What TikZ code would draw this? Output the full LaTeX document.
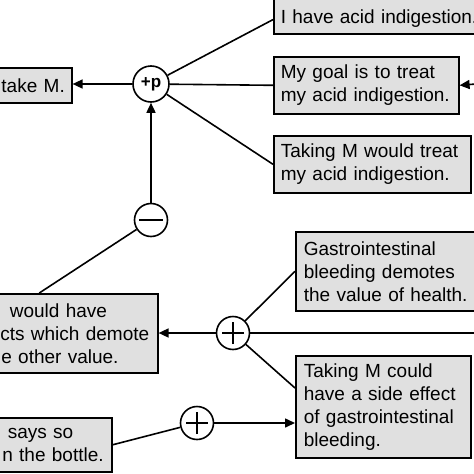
\documentclass[tikz,border=0pt]{standalone}
\usepackage{fontspec}
\setmainfont{Liberation Sans}
\usetikzlibrary{arrows.meta,calc}
\definecolor{boxfill}{RGB}{224,224,224}
\begin{document}
\begin{tikzpicture}[x=1pt,y=-1pt,
  box/.style={draw, line width=1.6pt, fill=boxfill, inner xsep=7pt, inner ysep=0pt,
    anchor=north west, font=\fontsize{19}{23}\selectfont},
  opnode/.style={circle, draw, fill=white, line width=1.6pt, inner sep=0pt, minimum size=33pt},
  plusnode/.style={opnode, path picture={\draw[line width=1.6pt]
    ([xshift=-11pt]path picture bounding box.center) -- ([xshift=11pt]path picture bounding box.center)
    ([yshift=-11pt]path picture bounding box.center) -- ([yshift=11pt]path picture bounding box.center);}},
  minusnode/.style={opnode, path picture={\draw[line width=2.6pt]
    ([xshift=-12pt]path picture bounding box.center) -- ([xshift=12pt]path picture bounding box.center);}},
  link/.style={line width=1.6pt},
  arr/.style={link, -{Triangle[length=10pt,width=9pt]}}
]
\useasboundingbox (0,0) rectangle (474,474);
\clip (0,0) rectangle (474,474);

% boxes
\node[box, align=right, text width=117pt, minimum height=35pt] (take) at (-60,67) {take M.};
\node[box, align=left, text width=233pt, text height=24pt, text depth=6pt, inner ysep=4pt] (have) at (273,-5) {I have acid indigestion.};
\node[box, align=left, text width=171pt, minimum height=57pt] (goal) at (273,56) {My goal is to treat\\my acid indigestion.};
\node[box, align=left, text width=183pt, minimum height=57pt] (treat) at (273,135) {Taking M would treat\\my acid indigestion.};
\node[box, align=left, text width=223pt, minimum height=79pt] (side) at (-80,293)
  {\hspace*{82pt}would have\\\hspace*{72.5pt}cts which demote\\\hspace*{73.5pt}e other value.};
\node[box, align=left, inner xsep=8pt, text width=209pt, minimum height=79pt] (gas) at (295,231)
  {Gastrointestinal\\bleeding demotes\\the value of health.};
\node[box, align=left, inner xsep=8pt, text width=159pt, minimum height=102pt] (could) at (295,355)
  {Taking M could\\have a side effect\\of gastrointestinal\\bleeding.};
\node[box, align=left, text width=157pt, minimum height=54pt] (says) at (-60,417)
  {\hspace*{60pt}says so\\\hspace*{54.5pt}n the bottle.};

% operator circles
\node[opnode, minimum size=36pt, font=\fontsize{17}{17}\selectfont\bfseries] (pp) at (151,84) {+p};
\node[minusnode] (mn) at (151,220) {};
\node[plusnode] (p1) at (233,333) {};
\node[plusnode] (p2) at (197,423) {};

\coordinate (goalin) at (476,84);
\coordinate (p1out) at (476,333);

% connectors
\draw[arr] (pp) -- (pp -| take.east);
\draw[link] ([yshift=15pt]have.south west) -- (pp);
\draw[link] (goal.west) -- (pp);
\draw[link] (treat.west) -- (pp);
\draw[arr] (goalin) -- (goal.east);
\draw[arr] (mn) -- (pp);
\draw[link] (side.north) -- (mn);
\draw[arr] (p1) -- (p1 -| side.east);
\draw[link] (p1) -- (p1out);
\draw[link] (gas.west) -- (p1);
\draw[link] ([yshift=-33pt]could.north west) -- (p1);
\draw[arr] (p2) -- (p2 -| could.west);
\draw[link] (says.east) -- (p2);
\end{tikzpicture}
\end{document}
